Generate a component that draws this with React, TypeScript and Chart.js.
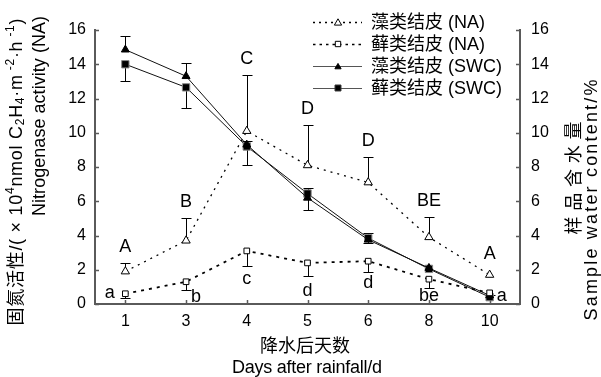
import React, { useEffect, useRef } from 'react';
import { Chart, registerables } from 'chart.js';

Chart.register(...registerables);

// ---------- data ----------
const days = ['1', '3', '4', '5', '6', '8', '10'];

const algaeNA = [1.9, 3.7, 10.1, 8.1, 7.1, 3.9, 1.7];
const algaeNAErr = [0.5, 1.3, 3.3, 2.35, 1.5, 1.2, 0];
const mossNA = [0.6, 1.3, 3.1, 2.4, 2.5, 1.45, 0.65];
const mossNAErr = [0.25, 0.5, 0.9, 0.75, 0.65, 0.5, 0.1];

const algaeSWC = [14.85, 13.3, 9.3, 6.2, 3.75, 2.1, 0.5];
const algaeSWCErr = [0.8, 0.75, 0.2, 0.6, 0.4, 0, 0];
const mossSWC = [14.0, 12.65, 9.2, 6.45, 3.85, 2.05, 0.4];
const mossSWCErr = [1.0, 1.2, 1.1, 0.95, 0.3, 0, 0];

const algaeLetters = ['A', 'B', 'C', 'D', 'D', 'BE', 'A'];
const mossLetters = ['a', 'b', 'c', 'd', 'd', 'be', 'a'];

const seriesNames = ['藻类结皮 (NA)', '藓类结皮 (NA)', '藻类结皮 (SWC)', '藓类结皮 (SWC)'];

// label placement (text layout only)
const mossLetterDx = [-15.5, 10, 0, 0, 0, 0, 12];
const mossLetterDy = [4.5, 20, 33, 33, 27, 22, 8];

const FONT = '"Liberation Sans", Arial, "Noto Sans CJK SC", sans-serif';
const AXIS = '#5a5a5a';

type Seg = { t: string; size: number; dy?: number };

function drawRich(ctx: CanvasRenderingContext2D, segs: Seg[], cx: number, cy: number, target: number | null, rot: number) {
  ctx.save();
  ctx.translate(cx, cy);
  ctx.rotate(rot);
  ctx.textBaseline = 'middle';
  ctx.textAlign = 'left';
  ctx.fillStyle = '#000';
  const chars: { ch: string; size: number; dy: number; w: number }[] = [];
  segs.forEach((s) => {
    ctx.font = `${s.size}px ${FONT}`;
    for (const ch of Array.from(s.t)) {
      chars.push({ ch, size: s.size, dy: s.dy || 0, w: ctx.measureText(ch).width });
    }
  });
  const nat = chars.reduce((a, c) => a + c.w, 0);
  const extra = target && chars.length > 1 ? (target - nat) / (chars.length - 1) : 0;
  let x = -(nat + extra * (chars.length - 1)) / 2;
  chars.forEach((c) => {
    ctx.font = `${c.size}px ${FONT}`;
    ctx.fillText(c.ch, x, c.dy);
    x += c.w + extra;
  });
  ctx.restore();
}

function marker(ctx: CanvasRenderingContext2D, kind: string, x: number, y: number, r: number, fill: string, stroke: string) {
  ctx.save();
  ctx.beginPath();
  if (kind === 'triangle') {
    for (let k = 0; k < 3; k++) {
      const a = (k * 2 * Math.PI) / 3;
      const px = x + Math.sin(a) * r;
      const py = y - Math.cos(a) * r;
      if (k === 0) ctx.moveTo(px, py);
      else ctx.lineTo(px, py);
    }
    ctx.closePath();
  } else {
    const s = Math.SQRT1_2 * r;
    ctx.rect(x - s, y - s, 2 * s, 2 * s);
  }
  ctx.fillStyle = fill;
  ctx.fill();
  ctx.lineWidth = 1;
  ctx.strokeStyle = stroke;
  ctx.stroke();
  ctx.restore();
}

const errConfig = [
  { ds: 0, err: algaeNAErr, dir: 1 },
  { ds: 1, err: mossNAErr, dir: -1 },
  { ds: 2, err: algaeSWCErr, dir: 1 },
  { ds: 3, err: mossSWCErr, dir: -1 },
];

const decorPlugin = {
  id: 'decor',
  beforeDatasetsDraw(chart: any) {
    const ctx: CanvasRenderingContext2D = chart.ctx;
    ctx.save();
    ctx.strokeStyle = '#000';
    ctx.lineWidth = 1;
    errConfig.forEach(({ ds, err, dir }) => {
      const meta = chart.getDatasetMeta(ds);
      const ys = chart.scales[meta.yAxisID];
      const vals = chart.data.datasets[ds].data as number[];
      meta.data.forEach((pt: any, i: number) => {
        if (!err[i]) return;
        const x = Math.round(pt.x) + 0.5;
        const y0 = ys.getPixelForValue(vals[i]);
        const y1 = Math.round(ys.getPixelForValue(vals[i] + dir * err[i])) + 0.5;
        ctx.beginPath();
        ctx.moveTo(x, y0);
        ctx.lineTo(x, y1);
        ctx.moveTo(x - 5, y1);
        ctx.lineTo(x + 5, y1);
        ctx.stroke();
      });
    });
    ctx.restore();
  },
  afterDraw(chart: any) {
    const ctx: CanvasRenderingContext2D = chart.ctx;
    const area = chart.chartArea;
    const yL = chart.scales.y;
    const xS = chart.scales.x;

    // inward tick marks
    ctx.save();
    ctx.strokeStyle = AXIS;
    ctx.lineWidth = 1.5;
    for (let v = 0; v <= 16; v += 2) {
      const y = Math.round(yL.getPixelForValue(v)) + 0.5;
      ctx.beginPath();
      ctx.moveTo(area.left, y);
      ctx.lineTo(area.left + 4, y);
      ctx.moveTo(area.right, y);
      ctx.lineTo(area.right - 4, y);
      ctx.stroke();
    }
    days.forEach((_, i) => {
      const x = Math.round(xS.getPixelForValue(i)) + 0.5;
      ctx.beginPath();
      ctx.moveTo(x, area.bottom);
      ctx.lineTo(x, area.bottom - 4);
      ctx.stroke();
    });
    ctx.restore();

    // significance letters
    ctx.save();
    ctx.fillStyle = '#000';
    ctx.font = `18px ${FONT}`;
    ctx.textAlign = 'center';
    ctx.textBaseline = 'alphabetic';
    const m0 = chart.getDatasetMeta(0);
    m0.data.forEach((pt: any, i: number) => {
      const top = algaeNAErr[i]
        ? yL.getPixelForValue(algaeNA[i] + algaeNAErr[i]) - 11
        : pt.y - 16;
      ctx.fillText(algaeLetters[i], pt.x, top);
    });
    const m1 = chart.getDatasetMeta(1);
    m1.data.forEach((pt: any, i: number) => {
      ctx.fillText(mossLetters[i], pt.x + mossLetterDx[i], pt.y + mossLetterDy[i]);
    });
    ctx.restore();

    // legend
    const rows = [22, 44, 66, 88];
    const lx0 = 313, lx1 = 362, lm = 338, tx = 371;
    rows.forEach((ry, i) => {
      ctx.save();
      ctx.beginPath();
      if (i < 2) {
        ctx.setLineDash(i === 0 ? [2, 4] : [2.5, 4]);
        ctx.strokeStyle = '#000';
        ctx.lineWidth = i === 0 ? 1.3 : 1.6;
      } else {
        ctx.strokeStyle = '#555';
        ctx.lineWidth = 1.2;
      }
      ctx.moveTo(lx0, ry + 0.5);
      ctx.lineTo(lx1, ry + 0.5);
      ctx.stroke();
      ctx.restore();
      if (i === 0) marker(ctx, 'triangle', lm, ry + 1, 4.2, '#fff', '#000');
      if (i === 1) marker(ctx, 'rect', lm, ry, 3.8, '#fff', '#000');
      if (i === 2) marker(ctx, 'triangle', lm, ry + 1, 3.6, '#000', '#000');
      if (i === 3) marker(ctx, 'rect', lm, ry, 4.2, '#000', '#333');
      ctx.save();
      ctx.fillStyle = '#000';
      ctx.font = `18px ${FONT}`;
      ctx.textAlign = 'left';
      ctx.textBaseline = 'middle';
      ctx.fillText(seriesNames[i], tx, ry + 1);
      ctx.restore();
    });

    // axis titles
    drawRich(
      ctx,
      [
        { t: '固氮活性/( × 10', size: 18 },
        { t: '4', size: 12, dy: -6 },
        { t: 'nmol C', size: 18 },
        { t: '2', size: 12, dy: 4 },
        { t: 'H', size: 18 },
        { t: '4', size: 12, dy: 4 },
        { t: '·m', size: 18 },
        { t: ' -2', size: 12, dy: -6 },
        { t: '·h', size: 18 },
        { t: ' -1', size: 12, dy: -6 },
        { t: ')', size: 18 },
      ],
      17, 172, 307, -Math.PI / 2
    );
    drawRich(ctx, [{ t: 'Nitrogenase activity (NA)', size: 18 }], 40, 116, 200, -Math.PI / 2);
    drawRich(ctx, [{ t: '样品含水量', size: 18 }], 575, 178, 113, -Math.PI / 2);
    drawRich(ctx, [{ t: 'Sample water content/%', size: 18 }], 592.5, 200, 241, -Math.PI / 2);
    drawRich(ctx, [{ t: '降水后天数', size: 18 }], 305, 347, 90, 0);
    drawRich(ctx, [{ t: 'Days after rainfall/d', size: 18 }], 307, 368, 150, 0);
  },
};

export default function App() {
  const ref = useRef<HTMLCanvasElement | null>(null);
  useEffect(() => {
    if (!ref.current) return;
    const tickFont = { family: FONT, size: 16 };
    const chart = new Chart(ref.current, {
      type: 'line',
      data: {
        labels: days,
        datasets: [
          {
            label: seriesNames[0],
            data: algaeNA,
            yAxisID: 'y',
            borderColor: '#000',
            borderWidth: 1.3,
            borderDash: [2, 5],
            pointStyle: 'triangle',
            pointRadius: 4.8,
            pointBackgroundColor: '#fff',
            pointBorderColor: '#000',
            pointBorderWidth: 1,
            tension: 0,
            fill: false,
          },
          {
            label: seriesNames[1],
            data: mossNA,
            yAxisID: 'y',
            borderColor: '#000',
            borderWidth: 1.8,
            borderDash: [3, 5],
            pointStyle: 'rect',
            pointRadius: 4,
            pointBackgroundColor: '#fff',
            pointBorderColor: '#000',
            pointBorderWidth: 1,
            tension: 0,
            fill: false,
          },
          {
            label: seriesNames[2],
            data: algaeSWC,
            yAxisID: 'y2',
            borderColor: '#111',
            borderWidth: 1,
            pointStyle: 'triangle',
            pointRadius: 4.6,
            pointBackgroundColor: '#000',
            pointBorderColor: '#000',
            pointBorderWidth: 1,
            tension: 0,
            fill: false,
          },
          {
            label: seriesNames[3],
            data: mossSWC,
            yAxisID: 'y2',
            borderColor: '#111',
            borderWidth: 1,
            pointStyle: 'rect',
            pointRadius: 5.2,
            pointBackgroundColor: '#000',
            pointBorderColor: '#888',
            pointBorderWidth: 1,
            tension: 0,
            fill: false,
          },
        ],
      },
      options: {
        responsive: false,
        animation: false,
        events: [],
        layout: { padding: { top: 30, left: 0, right: 0, bottom: 0 } },
        plugins: { legend: { display: false }, tooltip: { enabled: false }, title: { display: false } },
        scales: {
          x: {
            type: 'category',
            offset: true,
            grid: { display: false, drawTicks: false },
            border: { display: true, color: AXIS, width: 2 },
            ticks: { color: '#000', font: tickFont, padding: 8, maxRotation: 0 },
            afterFit: (s: any) => {
              s.height = 73;
            },
          },
          y: {
            position: 'left',
            min: 0,
            max: 16,
            grid: { display: false, drawTicks: false },
            border: { display: true, color: AXIS, width: 2 },
            ticks: { stepSize: 2, color: '#000', font: tickFont, padding: 9 },
            afterFit: (s: any) => {
              s.width = 95;
            },
          },
          y2: {
            position: 'right',
            min: 0,
            max: 16,
            grid: { display: false, drawTicks: false },
            border: { display: true, color: AXIS, width: 2 },
            ticks: { stepSize: 2, color: '#000', font: tickFont, padding: 11 },
            afterFit: (s: any) => {
              s.width = 81;
            },
          },
        },
      } as any,
      plugins: [decorPlugin],
    });
    return () => chart.destroy();
  }, []);
  return (
    <div style={{ position: 'absolute', left: 0, top: 0, width: 601, height: 377, background: '#fff' }}>
      <canvas ref={ref} width={601} height={377} style={{ display: 'block' }} />
    </div>
  );
}
